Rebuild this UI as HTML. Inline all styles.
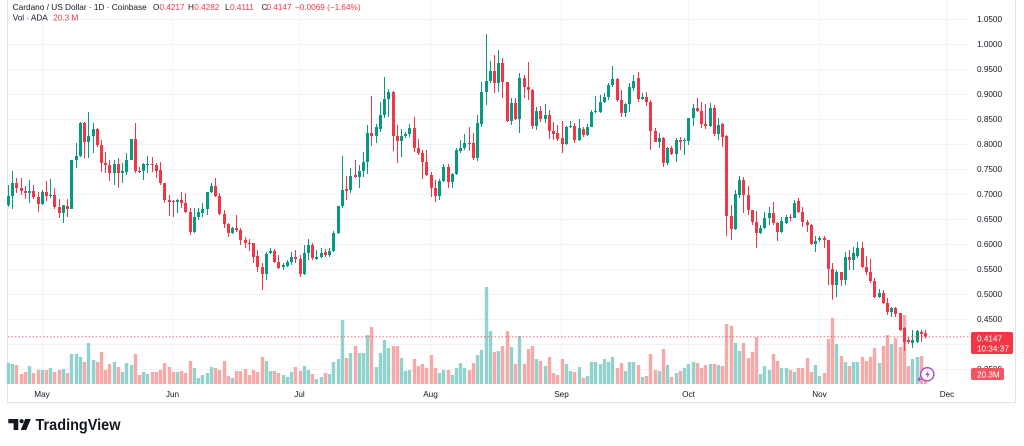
<!DOCTYPE html>
<html><head><meta charset="utf-8">
<style>
html,body{margin:0;padding:0;background:#fff;width:1024px;height:446px;overflow:hidden}
svg{display:block;font-family:"Liberation Sans",Arial,sans-serif}
</style></head><body>
<svg id="s" width="1024" height="446" viewBox="0 0 1024 446" xmlns="http://www.w3.org/2000/svg">
<rect x="0" y="0" width="1024" height="446" fill="#fff"/>
<g stroke="#f0f3fa" stroke-width="1">
<line x1="7" y1="19.5" x2="970" y2="19.5"/><line x1="7" y1="44.5" x2="970" y2="44.5"/>
<line x1="7" y1="69.5" x2="970" y2="69.5"/><line x1="7" y1="94.5" x2="970" y2="94.5"/>
<line x1="7" y1="119.5" x2="970" y2="119.5"/><line x1="7" y1="144.5" x2="970" y2="144.5"/>
<line x1="7" y1="169.5" x2="970" y2="169.5"/><line x1="7" y1="194.5" x2="970" y2="194.5"/>
<line x1="7" y1="219.5" x2="970" y2="219.5"/><line x1="7" y1="244.5" x2="970" y2="244.5"/>
<line x1="7" y1="269.5" x2="970" y2="269.5"/><line x1="7" y1="294.5" x2="970" y2="294.5"/>
<line x1="7" y1="319.5" x2="970" y2="319.5"/><line x1="7" y1="344.5" x2="970" y2="344.5"/>
<line x1="7" y1="369.5" x2="970" y2="369.5"/>
<line x1="42.5" y1="0" x2="42.5" y2="384"/><line x1="172.5" y1="0" x2="172.5" y2="384"/>
<line x1="299.5" y1="0" x2="299.5" y2="384"/><line x1="430.5" y1="0" x2="430.5" y2="384"/>
<line x1="561.5" y1="0" x2="561.5" y2="384"/><line x1="688.5" y1="0" x2="688.5" y2="384"/>
<line x1="819.5" y1="0" x2="819.5" y2="384"/><line x1="946.5" y1="0" x2="946.5" y2="384"/>
</g>
<g stroke="#e0e3eb" stroke-width="1">
<line x1="7.5" y1="0" x2="7.5" y2="403"/><line x1="1015.5" y1="0" x2="1015.5" y2="403"/>
<line x1="7" y1="402.5" x2="1016" y2="402.5"/>
</g>
<g id="vol"></g>
<g id="cnd"></g>
<line x1="8" y1="336.8" x2="971" y2="336.8" stroke="#f23645" stroke-opacity="0.7" stroke-width="1" stroke-dasharray="1.5,2"/>
<!-- header -->
<g font-size="8.2" fill="#131722">
<text x="12.7" y="10" textLength="134" lengthAdjust="spacingAndGlyphs">Cardano / US Dollar · 1D · Coinbase</text>
<text x="153" y="10">O</text><text x="159.5" y="10" fill="#f23645">0.4217</text>
<text x="188" y="10">H</text><text x="194.3" y="10" fill="#f23645">0.4282</text>
<text x="225" y="10">L</text><text x="230" y="10" fill="#f23645">0.4111</text>
<text x="261.5" y="10">C</text><text x="266.5" y="10" fill="#f23645">0.4147</text>
<text x="295" y="10" fill="#f23645">−0.0069 (−1.64%)</text>
<text x="12.7" y="20.5">Vol · ADA</text>
<text x="53.3" y="20.5" fill="#f23645">20.3 M</text>
</g>
<!-- price axis -->
<g font-size="8.2" fill="#131722">
<text x="977" y="22">1.0500</text><text x="977" y="47">1.0000</text>
<text x="977" y="72">0.9500</text><text x="977" y="97">0.9000</text>
<text x="977" y="122">0.8500</text><text x="977" y="147">0.8000</text>
<text x="977" y="172">0.7500</text><text x="977" y="197">0.7000</text>
<text x="977" y="222">0.6500</text><text x="977" y="247">0.6000</text>
<text x="977" y="272">0.5500</text><text x="977" y="297">0.5000</text>
<text x="977" y="322">0.4500</text><text x="977" y="372">0.3500</text>
</g>
<rect x="971" y="332" width="42" height="22" rx="2" fill="#f23645"/>
<text x="977" y="341.5" font-size="8.2" fill="#fff">0.4147</text>
<text x="977" y="351.5" font-size="8.2" fill="#fff">10:34:37</text>
<rect x="971" y="368" width="33" height="12" rx="2" fill="#f25560"/>
<text x="977" y="377.3" font-size="8.2" fill="#fff">20.3M</text>
<!-- time axis -->
<g font-size="8.2" fill="#131722" text-anchor="middle">
<text x="42" y="397">May</text><text x="172.5" y="397">Jun</text>
<text x="299.5" y="397">Jul</text><text x="430.5" y="397">Aug</text>
<text x="561.5" y="397">Sep</text><text x="688.5" y="397">Oct</text>
<text x="819.5" y="397">Nov</text><text x="947" y="397">Dec</text>
</g>
<!-- lightning icon -->
<circle cx="927.3" cy="374.3" r="6.6" fill="#fff" stroke="#a33fd6" stroke-width="1.3"/>
<path d="M928.8,370 L925.3,375 L927.6,375 L926.2,378.8 L929.8,373.6 L927.5,373.6 Z" fill="#a33fd6"/>
<path d="M919.3,376.5 L920,378.6 L922.1,379.3 L920,380 L919.3,382.1 L918.6,380 L916.5,379.3 L918.6,378.6 Z" fill="#a33fd6"/>
<!-- logo -->
<g fill="#131722">
<path d="M8.3,419 H18.3 V430 H13.6 V423.2 H8.3 Z"/>
<circle cx="21.6" cy="421.2" r="2.1"/>
<path d="M25.2,419 H30.8 L26.3,430 H20.7 Z"/>
<text x="35.5" y="430" font-size="15.5" font-weight="bold" textLength="85" lengthAdjust="spacingAndGlyphs">TradingView</text>
</g>
</svg>
<script>
const D=[[205,196,185,207,363],[196,183,171,209,364],[183,188,178,193,365],[188,191,178,195,374],[191,193,186,199,372],[193,191,180,203,366],[191,197,185,199,373],[197,204,192,212,370],[204,192,190,205,370],[192,196,181,201,370],
[196,195,179,198,368],[195,207,188,209,372],[207,213,199,218,370],[213,205,205,223,369],[206,209,199,217,373],[209,160,160,209,354],[160,156,143,168,354],[156,123,122,157,357],[123,142,122,158,362],[142,136,112,158,343],
[136,129,123,153,360],[129,145,128,147,362],[145,163,140,172,352],[163,165,152,173,370],[165,173,160,181,364],[173,164,160,185,362],[164,173,158,188,367],[173,171,163,183,372],[172,160,153,175,363],[160,139,139,160,365],
[139,171,123,173,354],[171,172,167,173,375],[171,164,163,180,372],[165,164,156,173,374],[164,165,157,172,372],[165,171,163,178,372],[170,183,162,185,370],[183,200,183,203,363],[200,202,195,216,367],[201,202,200,217,372],
[202,200,199,213,372],[200,203,192,208,371],[203,212,193,213,373],[212,232,208,235,361],[232,217,208,233,368],[217,212,208,220,378],[213,209,203,217,375],[209,192,192,215,373],[192,186,183,193,367],[186,196,178,197,368],
[196,214,193,215,370],[214,224,210,228,361],[224,233,223,237,376],[233,228,227,234,378],[228,230,215,232,371],[230,240,228,245,371],[240,243,237,248,369],[243,244,239,251,375],[243,257,243,263,370],[256,267,250,272,372],
[267,274,263,290,357],[274,254,252,280,361],[253,251,248,254,371],[251,262,249,263,371],[262,268,255,269,373],[267,265,263,270,375],[266,262,260,267,377],[262,257,252,265,372],[257,259,250,263,367],[259,274,255,277,371],
[274,253,245,275,366],[253,245,239,260,370],[245,258,243,260,374],[259,257,250,260,379],[257,253,248,258,377],[252,255,249,257,373],[255,251,248,257,374],[251,233,231,252,362],[233,206,206,234,359],[206,190,156,208,320],
[189,191,176,200,358],[190,176,168,193,353],[175,177,160,178,346],[177,171,165,188,353],[171,162,152,177,353],[162,133,125,174,335],[133,136,96,146,327],[136,127,124,143,367],[129,115,102,132,353],[115,99,77,118,340],
[99,92,89,117,348],[92,136,91,151,346],[136,141,125,163,346],[141,136,129,157,358],[136,134,132,138,371],[134,128,124,137,370],[128,148,117,152,359],[148,153,139,155,366],[153,162,150,179,364],[162,175,150,176,368],
[175,188,172,197,355],[188,196,180,202,368],[196,181,179,200,373],[181,167,164,182,370],[167,182,164,188,370],[182,174,173,188,375],[174,150,148,175,368],[151,148,140,153,363],[148,143,134,150,368],[143,144,127,151,370],
[143,158,133,160,363],[158,123,115,161,355],[124,92,82,127,350],[92,81,34,105,287],[81,71,61,83,331],[71,83,55,93,352],[83,63,50,92,351],[63,82,58,98,346],[82,121,82,122,331],[121,103,98,125,347],
[103,119,98,120,364],[119,78,73,133,336],[78,87,75,98,364],[87,90,62,100,349],[90,126,89,129,346],[126,111,107,130,359],[111,119,106,122,361],[119,115,104,123,366],[115,131,110,139,357],[131,134,122,140,373],
[133,139,125,141,375],[138,144,121,153,359],[144,127,126,145,364],[127,126,121,128,371],[126,140,123,143,372],[140,128,119,141,367],[129,135,127,137,378],[135,127,124,136,376],[127,112,110,127,362],[112,111,96,113,362],
[112,102,95,113,364],[102,97,93,103,359],[97,85,83,100,362],[85,79,66,87,357],[79,100,78,102,368],[100,113,90,117,363],[113,104,103,117,371],[104,87,83,112,362],[88,81,75,91,362],[78,99,72,102,365],
[99,97,93,100,377],[97,102,92,106,376],[102,131,100,150,354],[131,142,128,142,370],[142,138,133,148,371],[138,163,137,167,349],[163,148,147,165,365],[148,154,146,155,377],[154,140,138,162,373],[140,142,137,150,371],
[141,140,138,155,368],[141,118,118,145,364],[118,108,104,126,362],[108,111,98,112,363],[111,124,102,128,368],[124,126,104,129,365],[126,108,103,127,364],[108,134,105,136,364],[134,125,118,140,365],[124,137,123,147,366],
[136,216,135,236,324],[216,229,205,240,326],[229,194,190,230,343],[195,180,176,198,351],[180,195,177,213,343],[195,210,186,215,358],[210,222,210,225,352],[222,233,211,248,337],[233,228,225,234,374],[228,218,212,229,366],
[218,213,207,225,370],[213,223,202,225,354],[223,232,222,241,361],[232,221,217,233,368],[223,217,215,224,368],[217,218,214,221,370],[218,203,200,218,372],[201,212,198,213,368],[212,222,207,227,368],[222,225,220,232,358],
[225,244,224,245,372],[244,241,236,252,365],[240,238,236,242,376],[238,240,236,248,373],[240,269,240,285,339],[269,285,263,300,318],[285,272,270,297,344],[272,280,272,286,356],[280,257,252,285,362],[257,260,250,270,366],
[260,253,247,270,362],[256,248,242,258,362],[248,267,242,268,357],[267,272,256,275,361],[272,281,259,283,357],[281,297,278,298,348],[297,293,289,298,363],[293,303,290,304,346],[303,312,298,315,335],[312,308,307,317,344],
[308,314,307,317,338],[313,330,313,331,347],[328,342,327,351,315],[340,342,337,344,366],[343,340,330,348,359],[342,331,330,343,357],[332,334,330,342,356],[333,336.6,330,338.5,374]];
let v='',c='';
D.forEach((d,i)=>{
  const cx=Math.round(8+4.226*i)+0.5;
  const o=d[0],cl=d[1],h=d[2],l=d[3],vv=d[4];
  const up=cl<o;
  const col=up?'#089981':'#f23645';
  const vc=up?'#92d2cc':'#f7a9a7';
  v+='<rect x="'+(cx-1.7)+'" y="'+vv+'" width="3.4" height="'+(384-vv)+'" fill="'+vc+'"/>';
  const t=Math.min(o,cl), bh=Math.max(1,Math.abs(o-cl));
  c+='<rect x="'+(cx-0.5)+'" y="'+h+'" width="1" height="'+Math.max(1,l-h)+'" fill="'+col+'"/>';
  c+='<rect x="'+(cx-1.5)+'" y="'+t+'" width="3" height="'+bh+'" fill="'+col+'"/>';
});
document.getElementById('vol').innerHTML=v;
document.getElementById('cnd').innerHTML=c;
</script>
</body></html>
